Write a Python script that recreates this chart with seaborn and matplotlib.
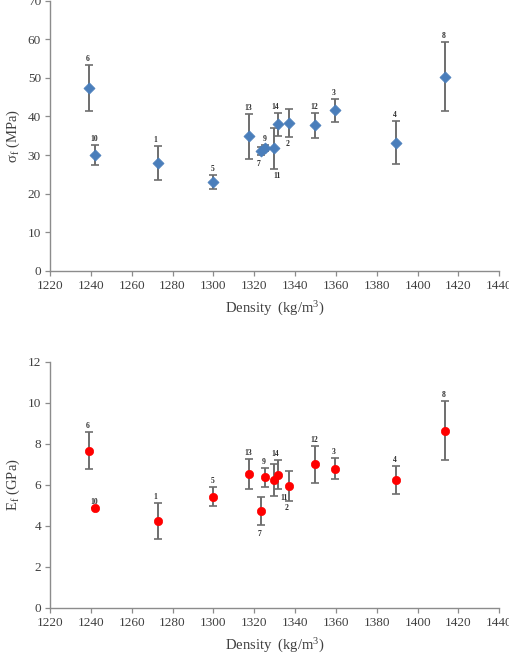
import numpy as np
import pandas as pd
import matplotlib
matplotlib.use("Agg")
import matplotlib.pyplot as plt
import seaborn as sns

# ---- data ----
sample_ids = ["1", "2", "3", "4", "5", "6", "7", "8", "9", "10", "11", "12", "13", "14"]
density = [1273, 1337, 1359.5, 1389.5, 1300, 1239, 1323.5, 1413.5, 1325.5, 1242, 1329.5, 1350, 1317.5, 1331.5]
strength = [27.9, 38.3, 41.6, 33.2, 22.9, 47.3, 31.0, 50.3, 31.8, 30.0, 31.7, 37.7, 34.8, 38.0]
strength_err = [4.4, 3.6, 3.0, 5.5, 1.8, 6.0, 1.0, 8.9, 0.8, 2.7, 5.2, 3.2, 5.9, 3.0]
modulus = [4.23, 5.92, 6.78, 6.24, 5.42, 7.66, 4.72, 8.63, 6.36, 4.85, 6.23, 7.00, 6.52, 6.49]
modulus_err = [0.87, 0.73, 0.52, 0.69, 0.45, 0.90, 0.67, 1.45, 0.45, 0.0, 0.80, 0.90, 0.73, 0.70]

x_ticks = [1220, 1240, 1260, 1280, 1300, 1320, 1340, 1360, 1380, 1400, 1420, 1440]
top_yticks = [0, 10, 20, 30, 40, 50, 60, 70]
bot_yticks = [0, 2, 4, 6, 8, 10, 12]

# label placement: "above" the upper bar end or "below" the lower bar end, plus pixel offsets
top_label_pos = {"7": ("below", -3, -9), "11": ("below", 3, -7), "2": ("below", -1, -7),
                 "1": ("above", -3, 6), "14": ("above", -3, 6)}
bot_label_pos = {"7": ("below", -2, -9), "11": ("mid", 10, -18), "2": ("below", -2, -7),
                 "1": ("above", -3, 6), "14": ("above", -3, 6), "9": ("above", -2, 6)}

df = pd.DataFrame({"id": sample_ids, "density": density,
                   "strength": strength, "strength_err": strength_err,
                   "modulus": modulus, "modulus_err": modulus_err})

sns.set_theme(style="ticks")
plt.rcParams["font.family"] = ["Liberation Serif", "DejaVu Serif"]
plt.rcParams["mathtext.fontset"] = "custom"
plt.rcParams["mathtext.rm"] = "Liberation Serif"
plt.rcParams["mathtext.it"] = "Liberation Serif:italic"

fig = plt.figure(figsize=(5.10, 6.64), dpi=100)
ax1 = fig.add_axes([0.098, 0.5923, 0.881, 0.4066])
ax2 = fig.add_axes([0.098, 0.0848, 0.881, 0.3705])

axis_col = "#8c8c8c"
text_col = "#404040"
err_col = "#6e6e6e"


def draw(ax, ycol, ecol, color, marker, msize, yticks, ylabel, label_pos):
    ax.errorbar(df["density"], df[ycol], yerr=df[ecol], fmt="none",
                ecolor=err_col, elinewidth=1.4, capsize=2.8, capthick=1.2, zorder=2)
    sns.scatterplot(data=df, x="density", y=ycol, ax=ax, color=color, marker=marker,
                    s=msize, edgecolor=color, linewidth=0.5, zorder=3, legend=False)
    for _, r in df.iterrows():
        mode, dx, dy = label_pos.get(r["id"], ("above", -1, 6))
        if mode == "above":
            y = r[ycol] + r[ecol]
        elif mode == "below":
            y = r[ycol] - r[ecol]
        else:
            y = r[ycol]
        ax.annotate(r["id"], (r["density"], y), xytext=(dx, dy), textcoords="offset pixels",
                    ha="center", va="center", fontsize=5.5, fontweight="bold", color="#303030")
    ax.set_xlim(1220, 1440)
    ax.set_ylim(yticks[0], yticks[-1])
    ax.set_xticks(x_ticks)
    ax.set_yticks(yticks)
    ax.set_xlabel("Density  (kg/m$^3$)", fontsize=10.5, color=text_col, labelpad=6)
    ax.set_ylabel(ylabel, fontsize=10.5, color=text_col, labelpad=4)
    for s in ["top", "right"]:
        ax.spines[s].set_visible(False)
    for s in ["left", "bottom"]:
        ax.spines[s].set_color(axis_col)
        ax.spines[s].set_linewidth(1.0)
    ax.tick_params(axis="both", direction="out", length=3.5, width=0.9, color=axis_col,
                   labelsize=9.5, labelcolor=text_col, pad=3)


draw(ax1, "strength", "strength_err", "#4a7ebb", "D", 32, top_yticks,
     "σ$_{\\mathrm{f}}$ (MPa)", top_label_pos)
draw(ax2, "modulus", "modulus_err", "#ff0000", "o", 36, bot_yticks,
     "E$_{\\mathrm{f}}$ (GPa)", bot_label_pos)

fig.savefig("out.png", dpi=100)
